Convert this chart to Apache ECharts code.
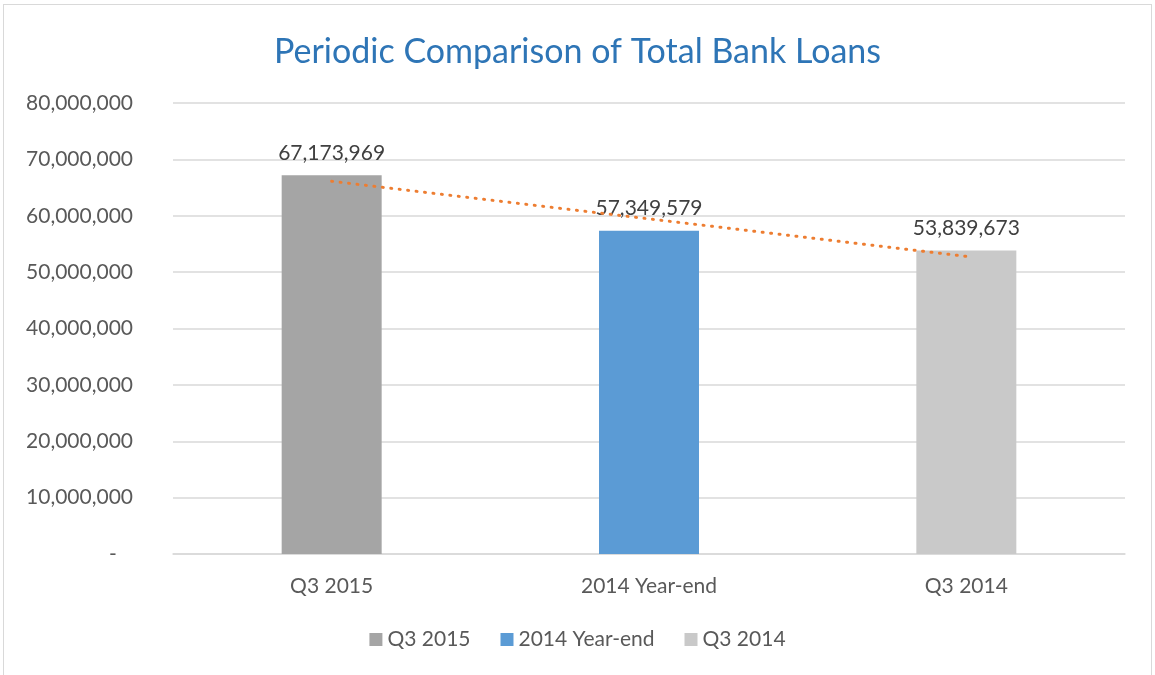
<!DOCTYPE html>
<html>
<head>
<meta charset="utf-8">
<script src="https://cdn.jsdelivr.net/npm/echarts@6/dist/echarts.min.js"></script>
<style>
html,body{margin:0;padding:0;background:#fff;}
#frame{position:absolute;left:3px;top:4px;width:1149px;height:680px;border:1px solid #D9D9D9;box-sizing:border-box;}
#chart{position:absolute;left:0;top:0;width:1155px;height:675px;}
</style>
</head>
<body>
<div id="frame"></div>
<div id="chart"></div>
<script>
const categories = ['Q3 2015', '2014 Year-end', 'Q3 2014'];
const loanValues = [67173969, 57349579, 53839673];
const barColors = ['#A5A5A5', '#5B9BD5', '#C9C9C9'];
const trendValues = [66120000, 59450000, 52790000];
const yTicks = [0, 10000000, 20000000, 30000000, 40000000, 50000000, 60000000, 70000000, 80000000];

const FONT = 'Lato';
const fmt = v => v.toLocaleString('en-US');

const barSeries = categories.map((name, i) => ({
  name: name,
  type: 'bar',
  stack: 'loans',
  barWidth: 100,
  itemStyle: { color: barColors[i] },
  label: {
    show: true, position: 'top', distance: 12,
    color: '#404040', fontSize: 21, fontFamily: FONT,
    formatter: p => fmt(p.value)
  },
  data: categories.map((c, j) => j === i ? loanValues[i] : null)
}));

const chart = echarts.init(document.getElementById('chart'));
chart.setOption({
  animation: false,
  backgroundColor: 'transparent',
  title: {
    text: 'Periodic Comparison of Total Bank Loans',
    left: 'center', top: 30,
    textStyle: { color: '#2E75B6', fontSize: 34, fontWeight: 'normal', fontFamily: FONT }
  },
  legend: {
    data: categories,
    bottom: 20, left: 'center',
    icon: 'rect', itemWidth: 13, itemHeight: 13, itemGap: 30,
    textStyle: { color: '#595959', fontSize: 21, fontFamily: FONT }
  },
  grid: { left: 173, right: 30, top: 103, bottom: 121, containLabel: false },
  xAxis: {
    type: 'category',
    data: categories,
    axisLine: { lineStyle: { color: '#D9D9D9', width: 1.5 } },
    axisTick: { show: false },
    axisLabel: { color: '#595959', fontSize: 21, fontFamily: FONT, margin: 22 }
  },
  yAxis: {
    type: 'value',
    min: yTicks[0], max: yTicks[yTicks.length - 1], interval: 10000000,
    axisLine: { show: false },
    axisTick: { show: false },
    splitLine: { lineStyle: { color: '#D9D9D9', width: 1.5 } },
    axisLabel: {
      color: '#595959', fontSize: 21, fontFamily: FONT, margin: 40,
      formatter: v => v === 0 ? '-   ' : fmt(v)
    }
  },
  series: barSeries.concat([{
    name: 'Trend',
    type: 'line',
    data: trendValues,
    symbol: 'none',
    silent: true,
    z: 5,
    lineStyle: { color: '#ED7D31', width: 3, type: [1, 7.5], cap: 'round' }
  }])
});
</script>
</body>
</html>
